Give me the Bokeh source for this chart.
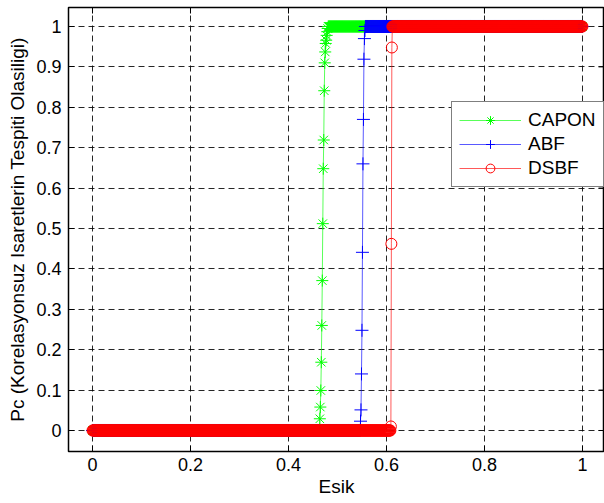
import numpy as np
from bokeh.plotting import figure
from bokeh.models import Range1d, FixedTicker, Legend, LegendItem
from bokeh.embed import file_html
from bokeh.resources import INLINE

# ---- data ----
esik_step = 0.001          # threshold sampling step
esik_max = 1.0
x_ticks = [0, 0.2, 0.4, 0.6, 0.8, 1]
x_tick_labels = ["0", "0.2", "0.4", "0.6", "0.8", "1"]
y_ticks = [0, 0.1, 0.2, 0.3, 0.4, 0.5, 0.6, 0.7, 0.8, 0.9, 1]
y_tick_labels = ["0", "0.1", "0.2", "0.3", "0.4", "0.5", "0.6", "0.7", "0.8", "0.9", "1"]

series_names = ["CAPON", "ABF", "DSBF"]
# value 0 before the rise, rise values on consecutive samples, then 1
capon_rise_start = 0.464
capon_rise = [0.029, 0.058, 0.099, 0.169, 0.26, 0.371, 0.512, 0.648, 0.719,
              0.841, 0.91, 0.937, 0.958, 0.966, 0.978, 0.987, 0.995]
abf_rise_start = 0.547
abf_rise = [0.023, 0.051, 0.14, 0.248, 0.441, 0.66, 0.77, 0.919, 0.97, 0.99]
dsbf_rise_start = 0.609
dsbf_rise = [0.01, 0.462, 0.948]
low_value = 0.0
high_value = 1.0


def build(start, rise):
    n = int(round(esik_max / esik_step)) + 1
    x = np.round(np.arange(n) * esik_step, 3)
    i0 = int(round(start / esik_step))
    y = np.full(n, high_value)
    y[:i0] = low_value
    y[i0:i0 + len(rise)] = rise
    return x, y


FONT = "Liberation Sans"
X_START, X_END = -0.049, 1.045
Y_START, Y_END = -0.052, 1.047

p = figure(width=604, height=503, output_backend="svg", toolbar_location=None,
           x_range=Range1d(X_START, X_END), y_range=Range1d(Y_START, Y_END),
           min_border_left=68, min_border_right=0, min_border_top=7, min_border_bottom=52)
p.background_fill_color = "white"
p.border_fill_color = "white"
p.outline_line_color = "black"
p.outline_line_width = 1.5

for ax in [p.xaxis[0], p.yaxis[0]]:
    ax.major_tick_in = 6
    ax.major_tick_out = 0
    ax.minor_tick_line_color = None
    ax.axis_line_color = None
    ax.major_tick_line_color = "black"
    ax.major_label_text_font = FONT
    ax.major_label_text_font_size = "18px"
    ax.major_label_text_color = "black"
    ax.axis_label_text_font = FONT
    ax.axis_label_text_font_size = "19px"
    ax.axis_label_text_font_style = "normal"
    ax.axis_label_text_color = "black"

p.xaxis.ticker = FixedTicker(ticks=x_ticks)
p.xaxis.major_label_overrides = {t: l for t, l in zip(x_ticks, x_tick_labels)}
p.yaxis.ticker = FixedTicker(ticks=y_ticks)
p.yaxis.major_label_overrides = {t: l for t, l in zip(y_ticks, y_tick_labels)}
p.xaxis.axis_label = "Esik"
p.yaxis.axis_label = "Pc (Korelasyonsuz Isaretlerin Tespiti Olasiligi)"
p.xaxis.major_label_standoff = 6
p.xaxis.axis_label_standoff = 2
p.yaxis.major_label_standoff = 7
p.yaxis.axis_label_standoff = 5

for g in [p.xgrid[0], p.ygrid[0]]:
    g.grid_line_color = "black"
    g.grid_line_dash = "6 4"
    g.grid_line_width = 1
    g.grid_line_alpha = 0.85
p.xgrid.ticker = FixedTicker(ticks=x_ticks)
p.ygrid.ticker = FixedTicker(ticks=y_ticks)

# box ticks on the top and right edges of the frame (inward half visible)
p.scatter(x=x_ticks, y=[Y_END] * len(x_ticks), marker="dash", angle=np.pi / 2,
          size=12, line_color="black", line_width=1)
p.scatter(x=[X_END] * len(y_ticks), y=y_ticks, marker="dash",
          size=12, line_color="black", line_width=1)

specs = [
    (capon_rise_start, capon_rise, "#00ff00", "asterisk", 12),
    (abf_rise_start, abf_rise, "#0000ff", "cross", 13),
    (dsbf_rise_start, dsbf_rise, "#ff0000", "circle", 11),
]
items = []
for name, (start, rise, color, marker, size) in zip(series_names, specs):
    x, y = build(start, rise)
    ln = p.line(x, y, line_color=color, line_width=1, line_alpha=0.65)
    mk = p.scatter(x, y, marker=marker, size=size, line_color=color, line_width=1,
                   fill_color=None)
    items.append(LegendItem(label=name, renderers=[ln, mk]))

legend = Legend(items=items, location=(383, 264))
legend.label_text_font = FONT
legend.label_text_font_size = "19px"
legend.label_text_color = "black"
legend.glyph_width = 62
legend.glyph_height = 22
legend.label_height = 22
legend.label_standoff = 7
legend.padding = 7
legend.spacing = 2
legend.margin = 0
legend.border_line_color = "black"
legend.border_line_width = 1
legend.background_fill_color = "white"
legend.background_fill_alpha = 1
p.add_layout(legend, "center")

open("out.html", "w").write(file_html(p, INLINE))
